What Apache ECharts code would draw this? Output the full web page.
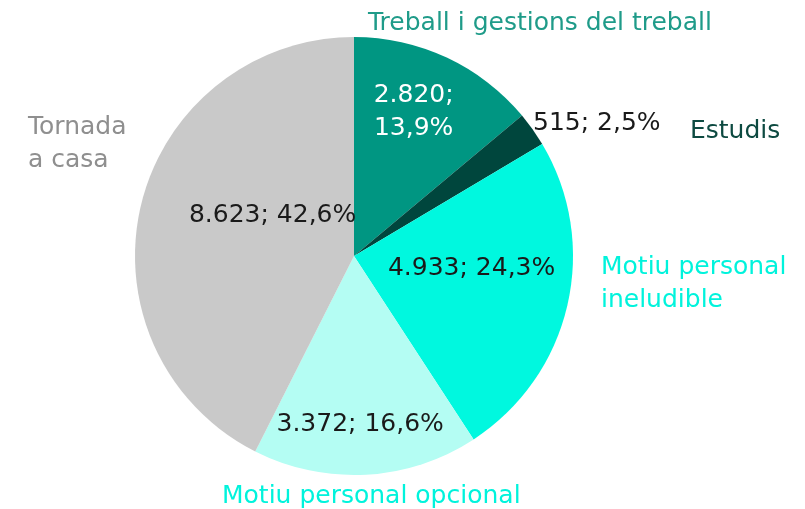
<!DOCTYPE html>
<html>
<head>
<meta charset="utf-8">
<script src="https://cdn.jsdelivr.net/npm/echarts@6/dist/echarts.min.js"></script>
<style>
  html, body { margin: 0; padding: 0; background: #fff; }
  #chart { width: 805px; height: 509px; }
</style>
</head>
<body>
<div id="chart"></div>
<script>
// dades
const categories = ['Treball i gestions del treball', 'Estudis', 'Motiu personal ineludible', 'Motiu personal opcional', 'Tornada a casa'];
const values = [2820, 515, 4933, 3372, 8623];
const percents = ['13,9%', '2,5%', '24,3%', '16,6%', '42,6%'];
const nameLabels = ['Treball i gestions del treball', 'Estudis', 'Motiu personal\nineludible', 'Motiu personal opcional', 'Tornada\na casa'];

const colors = ['#009682', '#00463d', '#00f8df', '#b4fdf3', '#c9c9c9'];
const nameColors = ['#1f9b89', '#0d4a41', '#00f3dc', '#00f3dc', '#8f8f8f'];
const valueColors = ['#ffffff', '#1a1a1a', '#1a1a1a', '#1a1a1a', '#1a1a1a'];
// desplaçaments de les etiquetes de valor respecte a la posició 'inside'
const valueOffsets = [[12, -42], [151, -67], [8, -13], [0, 56], [28, -14]];
// posicions de les etiquetes de nom (px, centre de la primera línia)
const namePos = [[368, 23], [690, 131], [601, 267], [222, 496], [28, 127]];

function fmt(n) {
    return n.toLocaleString('de-DE');
}

const chart = echarts.init(document.getElementById('chart'));

const data = categories.map((c, i) => ({
    name: c,
    value: values[i],
    itemStyle: { color: colors[i] },
    label: {
        color: valueColors[i],
        offset: valueOffsets[i],
        formatter: i === 0 ? fmt(values[i]) + ';\n' + percents[i] : fmt(values[i]) + '; ' + percents[i]
    }
}));

const graphics = nameLabels.map((t, i) => ({
    type: 'text',
    left: namePos[i][0],
    top: namePos[i][1] - 16,
    style: {
        text: t,
        fill: nameColors[i],
        font: '25px "DejaVu Sans"',
        lineHeight: 33
    }
}));

chart.setOption({
    backgroundColor: '#fff',
    animation: false,
    graphic: graphics,
    series: [{
        type: 'pie',
        center: [354, 256],
        radius: [0, 219],
        startAngle: 90,
        clockwise: true,
        data: data,
        label: {
            show: true,
            position: 'inside',
            fontFamily: 'DejaVu Sans',
            fontSize: 25,
            lineHeight: 33
        },
        labelLine: { show: false },
        emphasis: { disabled: true }
    }]
});

window.addEventListener('resize', () => chart.resize());
</script>
</body>
</html>
